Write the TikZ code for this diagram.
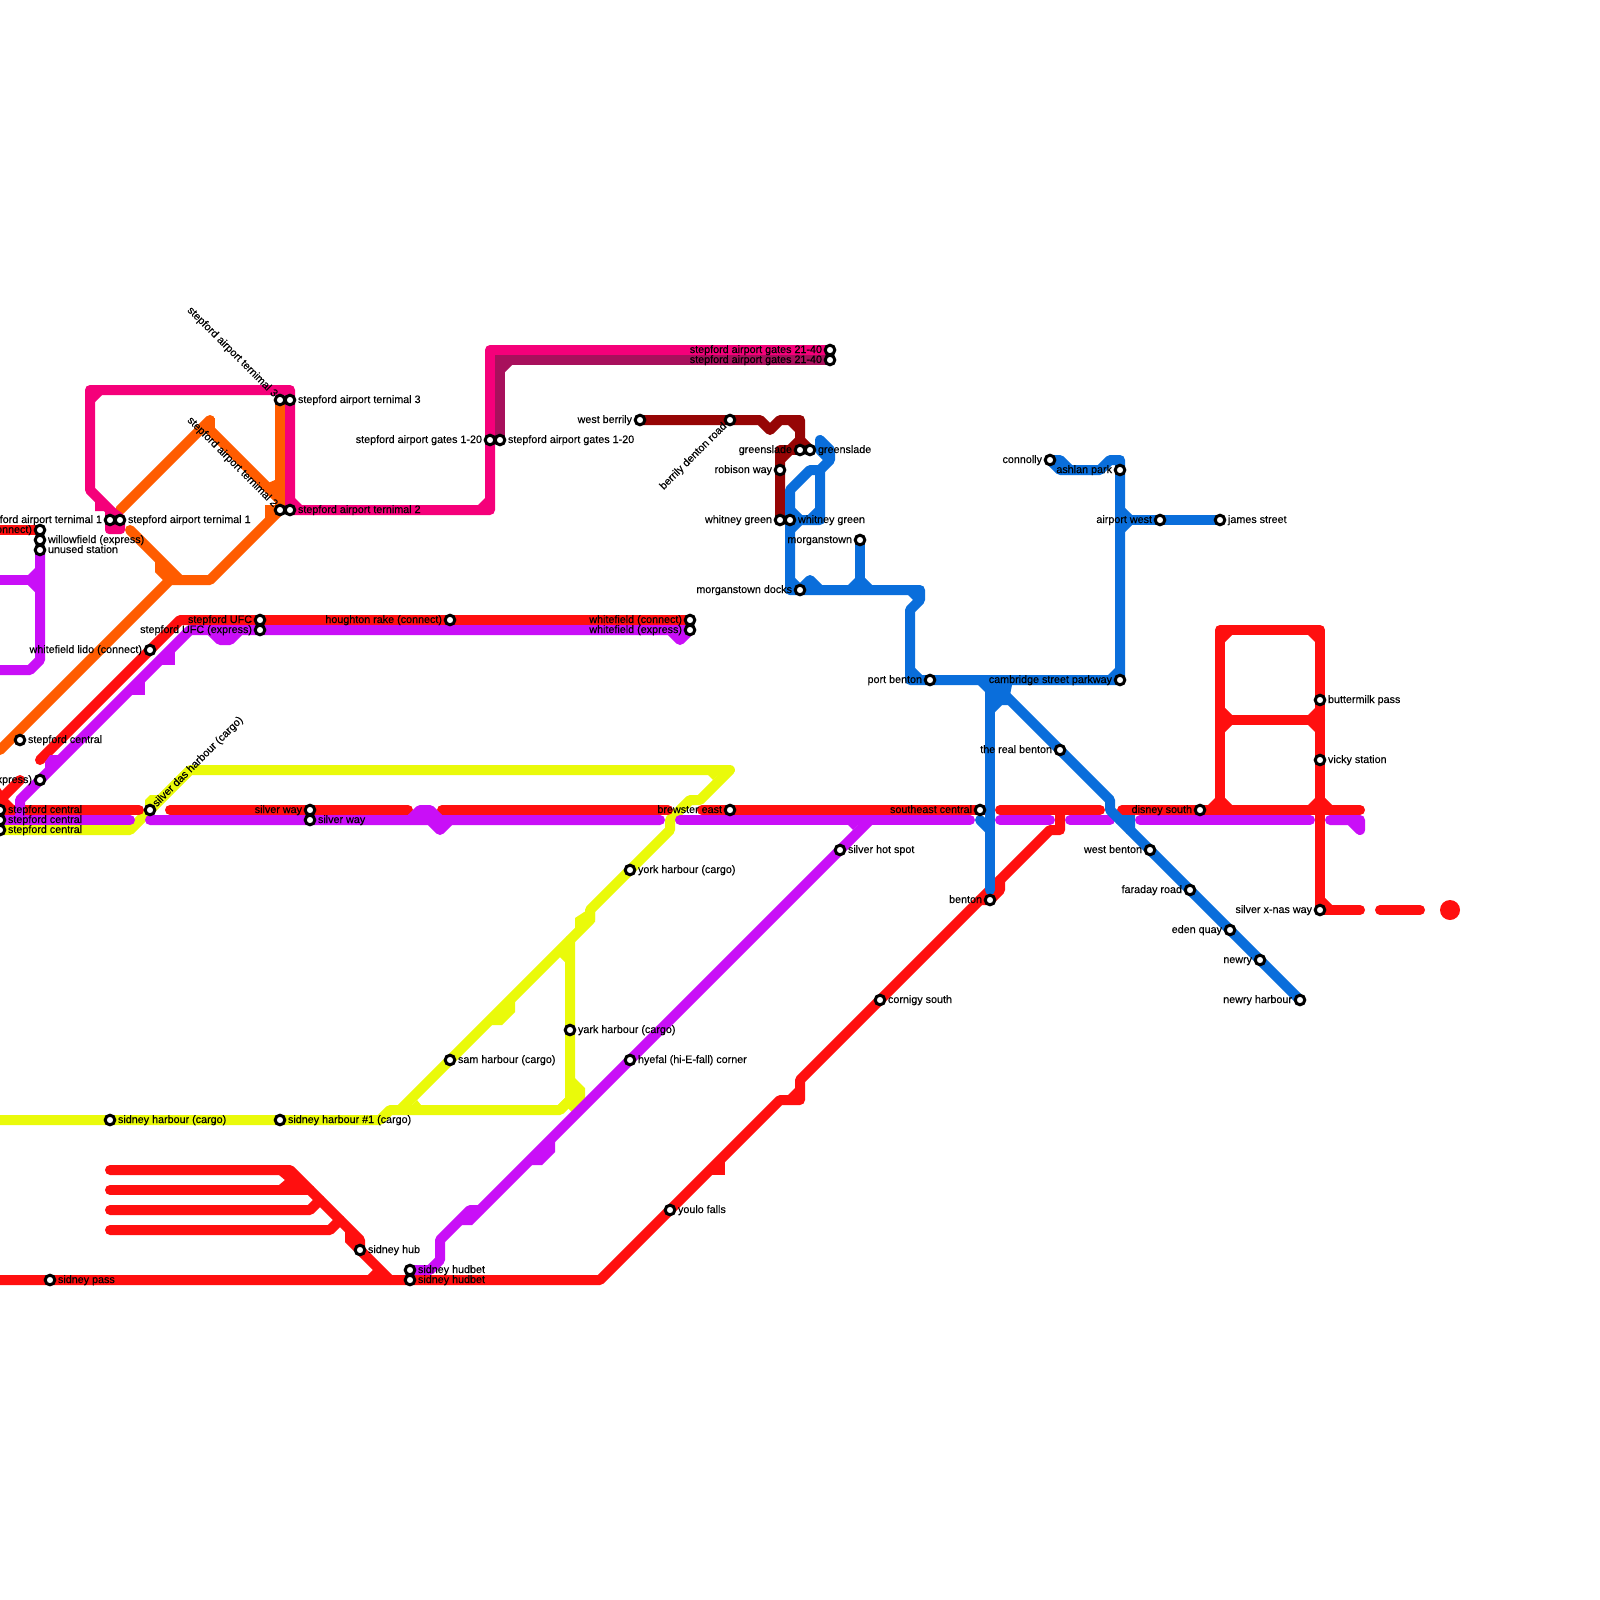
\documentclass[tikz,border=0pt]{standalone}
\usepackage{fontspec}
\setmainfont{Liberation Sans}[FakeBold=0.2]
\definecolor{cred}{HTML}{FF0F0F}
\definecolor{cpurple}{HTML}{C90FF7}
\definecolor{cyellow}{HTML}{EAFA0A}
\definecolor{corange}{HTML}{FF5C00}
\definecolor{cpink}{HTML}{F5007A}
\definecolor{cdpink}{HTML}{A8105C}
\definecolor{cdred}{HTML}{960505}
\definecolor{cblue}{HTML}{0A6EDB}
\tikzset{
  lin/.style={line width=5pt,line cap=round,line join=round,draw=#1},
  bt/.style={line width=5pt,line cap=butt,line join=miter,draw=#1},
  stn/.style={circle,draw=black,fill=white,line width=1.5pt,minimum size=4.8pt,inner sep=0pt,outer sep=0pt},
  lbl/.style={inner sep=0pt,outer sep=0pt,font=\fontsize{5.38}{6.5}\selectfont,text=black}
}
\newcommand\tri[5]{\fill[#1] (#2,#3) -- ++(#4,0) -- ++(-#4,#5) -- cycle;}
\newcommand\stR[4]{\node[stn] (#1) at (#2,#3) {}; \node[lbl,anchor=base west] at ([xshift=4pt,yshift=-1.5pt]#1.center) {#4};}
\newcommand\stL[4]{\node[stn] (#1) at (#2,#3) {}; \node[lbl,anchor=base east] at ([xshift=-4pt,yshift=-1.5pt]#1.center) {#4};}
\begin{document}
\begin{tikzpicture}[x=0.5pt,y=-0.5pt]
\useasboundingbox (0,0) rectangle (1600,1600);
\clip (0,0) rectangle (1600,1600);
% yellow
\draw[lin=cyellow] (0,830) -- (130,830) -- (190,770) -- (730,770) -- (700,800) -- (690,800) -- (670,820) -- (670,830) -- (590,910) -- (590,920) -- (400,1110);
\fill[cyellow] (145,800) -- (150,795) -- (165,795) -- (150,815) -- (145,815) -- cycle;
\fill[cyellow] (575,918) -- (575,932) -- (595,922) -- (595,905) -- cycle;
\draw[bt=cyellow] (510,1000) -- (510,1010) -- (500,1020) -- (490,1020);
\draw[lin=cyellow] (570,940) -- (570,1100) -- (560,1110) -- (390,1110) -- (380,1120) -- (0,1120);
\fill[cyellow] (575,1078) -- (585,1088) -- (585,1098) -- (572,1112) -- (565,1105) -- cycle;
\fill[cyellow] (565,945) -- (565,962) -- (558,955) -- cycle;
\tri{cyellow}{565}{1105}{-7}{-7}
\fill[cyellow] (412,1105) -- (421,1105) -- (417,1100) -- cycle;
\fill[cyellow] (708,775) -- (718,775) -- (713,780) -- cycle;
% red
\draw[lin=cred] (0,530) -- (40,530);
\draw[lin=cred] (40,760) -- (180,620) -- (690,620);
\draw[lin=cred] (20,780) -- (0,800);
\fill[cred] (-5,788) -- (0,788) -- (7,798) -- (14,805) -- (-5,815) -- cycle;
\draw[lin=cred] (0,810) -- (139,810);
\draw[lin=cred] (170,810) -- (408,810);
\draw[lin=cred] (442,810) -- (668,810);
\draw[lin=cred] (702,810) -- (985,810);
\draw[lin=cred] (1000,810) -- (1100,810);
\draw[lin=cred] (1122,810) -- (1360,810);
\draw[lin=cred] (1220,810) -- (1220,630) -- (1320,630) -- (1320,910) -- (1360,910);
\draw[lin=cred] (1220,720) -- (1320,720);
\draw[lin=cred] (1380,910) -- (1420,910);
\fill[cred] (1450,910) circle[radius=10];
\tri{cred}{1225}{635}{7}{7}
\tri{cred}{1315}{635}{-7}{7}
\tri{cred}{1225}{715}{7}{-7}
\tri{cred}{1225}{725}{7}{7}
\tri{cred}{1315}{715}{-7}{-7}
\tri{cred}{1315}{725}{-7}{7}
\tri{cred}{1225}{805}{7}{-7}
\tri{cred}{1315}{805}{-7}{-7}
\tri{cred}{1215}{805}{-7}{-7}
\tri{cred}{1325}{805}{7}{-7}
\tri{cred}{1325}{905}{7}{-7}
\draw[lin=cred] (0,1280) -- (600,1280) -- (780,1100) -- (800,1100) -- (800,1080) -- (1000,880) -- (1050,830) -- (1060,830) -- (1060,810);
\tri{cred}{795}{1095}{-7}{-7}
\draw[bt=cred] (720,1160) -- (720,1170) -- (710,1170);
\draw[lin=cred] (980,900) -- (990,900) -- (1000,890) -- (1000,880);
\draw[lin=cred] (110,1170) -- (290,1170) -- (360,1240) -- (360,1250) -- (390,1280);
\draw[lin=cred] (110,1190) -- (310,1190);
\draw[lin=cred] (110,1210) -- (310,1210) -- (320,1200);
\draw[lin=cred] (110,1230) -- (330,1230) -- (340,1220);
\fill[cred] (279,1175) -- (300,1175) -- (300,1185) -- (279,1185) -- (285,1180) -- cycle;
\draw[bt=cred] (350,1230) -- (350,1240) -- (360,1250);
\draw[bt=cred] (370,1280) -- (380,1270);
% purple
\draw[lin=cpurple] (40,550) -- (40,660) -- (30,670) -- (0,670);
\draw[lin=cpurple] (0,580) -- (40,580);
\tri{cpurple}{35}{575}{-7}{-7}
\tri{cpurple}{35}{585}{-7}{7}
\draw[lin=cpurple] (20,815) -- (20,800) -- (190,630) -- (210,630) -- (220,640) -- (230,640) -- (240,630) -- (670,630) -- (680,640) -- (690,630);
\draw[lin=cpurple] (210,630) -- (690,630);
\fill[cpurple] (45,762) -- (50,755) -- (62,755) -- (50,770) -- (45,770) -- cycle;
\draw[bt=cpurple] (170,650) -- (170,660) -- (160,660);
\draw[bt=cpurple] (140,680) -- (140,690) -- (130,690);
\draw[lin=cpurple] (0,820) -- (130,820);
\draw[lin=cpurple] (150,820) -- (410,820) -- (420,810) -- (430,810) -- (440,820) -- (450,820) -- (660,820);
\draw[lin=cpurple] (410,820) -- (430,820) -- (440,830) -- (450,820);
\fill[cpurple] (425,810) -- (445,822) -- (440,830) -- (425,820) -- cycle;
\draw[lin=cpurple] (680,820) -- (970,820);
\draw[lin=cpurple] (1000,820) -- (1050,820);
\draw[lin=cpurple] (1070,820) -- (1110,820);
\draw[lin=cpurple] (1140,820) -- (1310,820);
\draw[lin=cpurple] (1330,820) -- (1360,820) -- (1360,830) -- (1350,820);
\draw[lin=cpurple] (860,820) -- (870,820) -- (480,1210) -- (470,1210) -- (440,1240) -- (440,1260) -- (430,1270) -- (410,1270);
\fill[cpurple] (848,825) -- (858,825) -- (853,830) -- cycle;
\draw[bt=cpurple] (550,1140) -- (550,1150) -- (540,1160) -- (530,1160);
\draw[bt=cpurple] (480,1210) -- (470,1220) -- (460,1220);
% orange
\draw[lin=corange] (120,510) -- (210,420);
\draw[bt=corange] (210,418) -- (210,430);
\draw[lin=corange] (210,430) -- (280,500);
\draw[lin=corange] (280,400) -- (280,510) -- (210,580) -- (170,580) -- (0,750);
\draw[lin=corange] (130,530) -- (180,580);
\draw[bt=corange] (160,560) -- (160,570) -- (170,580);
\draw[bt=corange] (270,505) -- (270,520);
\fill[corange] (275,480) -- (275,490) -- (268,483) -- cycle;
% pink
\draw[lin=cpink] (120,520) -- (90,490) -- (90,390) -- (290,390) -- (290,510) -- (490,510) -- (490,350) -- (830,350);
\tri{cpink}{95}{395}{7}{7}
\tri{cpink}{485}{505}{-7}{-7}
\tri{cpink}{295}{505}{7}{-7}
\tri{cpink}{495}{355}{7}{7}
\fill[cpink] (95,495) -- (95,511) -- (105,511) -- (105,530) [rounded corners=2pt] -- (105,534) -- (125,534) -- (125,515) [sharp corners] -- (110,505) -- cycle;
% dark pink
\fill[cdpink] (495,355) rectangle (505,365);
\draw[lin=cdpink] (500,440) -- (500,360) -- (830,360);
\tri{cdpink}{505}{365}{7}{7}
% dark red
\draw[lin=cdred] (640,420) -- (760,420) -- (770,430) -- (780,420) -- (800,420) -- (800,440) -- (810,450);
\draw[lin=cdred] (800,440) -- (790,450) -- (780,450) -- (780,520);
\draw[lin=cdred] (790,450) -- (800,450);
\tri{cdred}{785}{455}{7}{7}
\tri{cdred}{795}{425}{-7}{7}
% blue
\draw[lin=cblue] (790,590) -- (790,490) -- (810,470) -- (820,470) -- (830,460) -- (830,450) -- (820,440) -- (820,450) -- (830,460);
\draw[lin=cblue] (820,470) -- (820,520) -- (800,520) -- (790,510);
\draw[lin=cblue] (800,520) -- (790,530);
\draw[bt=cblue] (810,520) -- (820,510);
\draw[lin=cblue] (790,590) -- (920,590) -- (920,600) -- (910,610) -- (910,680) -- (1120,680) -- (1120,460) -- (1110,460) -- (1100,470) -- (1070,470) -- (1060,460) -- (1050,460) -- (1060,470) -- (1070,470);
\draw[lin=cblue] (800,590) -- (810,580) -- (820,590);
\draw[lin=cblue] (860,540) -- (860,590);
\tri{cblue}{855}{585}{-7}{-7}
\tri{cblue}{865}{585}{7}{-7}
\tri{cblue}{795}{585}{7}{-7}
\tri{cblue}{915}{675}{7}{-7}
\tri{cblue}{1115}{675}{-7}{-7}
\tri{cblue}{915}{595}{-7}{7}
\draw[lin=cblue] (1120,520) -- (1220,520);
\tri{cblue}{1125}{515}{7}{-7}
\tri{cblue}{1125}{525}{7}{7}
\draw[lin=cblue] (990,680) -- (990,890);
\fill[cblue] (978,680) -- (978,685) -- (985,692) -- (985,720) -- (995,712) -- (1002,705) -- (1008,705) -- (1012,685) -- (1012,680) -- cycle;
\draw[lin=cblue] (980,820) -- (990,830);
\draw[lin=cblue] (990,680) -- (1110,800) -- (1110,810) -- (1300,1000);
\draw[lin=cblue] (1120,820) -- (1130,820) -- (1130,830);
\fill[cblue] (1115,815) -- (1135,815) -- (1135,830) -- (1125,830) -- cycle;
% stations
\stR{a3r}{290}{400}{stepford airport ternimal 3}
\stR{a2r}{290}{510}{stepford airport ternimal 2}
\stR{g1r}{500}{440}{stepford airport gates 1-20}
\stL{g1l}{490}{440}{stepford airport gates 1-20}
\stL{g2a}{830}{350}{stepford airport gates 21-40}
\stL{g2b}{830}{360}{stepford airport gates 21-40}
\stL{a1l}{110}{520}{stepford airport ternimal 1}
\stR{a1r}{120}{520}{stepford airport ternimal 1}
\stL{wc}{40}{530}{willowfield (connect)}
\stR{we}{40}{540}{willowfield (express)}
\stR{us}{40}{550}{unused station}
\stL{ufc}{260}{620}{stepford UFC}
\stL{ufe}{260}{630}{stepford UFC (express)}
\stL{hr}{450}{620}{houghton rake (connect)}
\stL{wfc}{690}{620}{whitefield (connect)}
\stL{wfe}{690}{630}{whitefield (express)}
\stL{wl}{150}{650}{whitefield lido (connect)}
\stR{sc0}{20}{740}{stepford central}
\stL{sx}{40}{780}{(express)}
\stR{sc1}{0}{810}{stepford central}
\stR{sc2}{0}{820}{stepford central}
\stR{sc3}{0}{830}{stepford central}
\stL{sw1}{310}{810}{silver way}
\stR{sw2}{310}{820}{silver way}
\stL{be}{730}{810}{brewster east}
\stR{yo}{630}{870}{york harbour (cargo)}
\stR{ya}{570}{1030}{yark harbour (cargo)}
\stR{sa}{450}{1060}{sam harbour (cargo)}
\stR{hy}{630}{1060}{hyefal (hi-E-fall) corner}
\stR{hs}{840}{850}{silver hot spot}
\stR{co}{880}{1000}{cornigy south}
\stR{yf}{670}{1210}{youlo falls}
\stR{sh}{110}{1120}{sidney harbour (cargo)}
\stR{sh1}{280}{1120}{sidney harbour \#1 (cargo)}
\stR{shb}{360}{1250}{sidney hub}
\stR{hu1}{410}{1270}{sidney hudbet}
\stR{hu2}{410}{1280}{sidney hudbet}
\stR{sp}{50}{1280}{sidney pass}
\stL{sec}{980}{810}{southeast central}
\stL{bn}{990}{900}{benton}
\stL{rb}{1060}{750}{the real benton}
\stL{csp}{1120}{680}{cambridge street parkway}
\stL{pb}{930}{680}{port benton}
\stL{ap}{1120}{470}{ashlan park}
\stL{cn}{1050}{460}{connolly}
\stL{aw}{1160}{520}{airport west}
\stR{js}{1220}{520}{james street}
\stL{mt}{860}{540}{morganstown}
\stL{md}{800}{590}{morganstown docks}
\stL{wg1}{780}{520}{whitney green}
\stR{wg2}{790}{520}{whitney green}
\stL{rw}{780}{470}{robison way}
\stL{gs1}{800}{450}{greenslade}
\stR{gs2}{810}{450}{greenslade}
\stL{wb}{640}{420}{west berrily}
\stR{bp}{1320}{700}{buttermilk pass}
\stR{vs}{1320}{760}{vicky station}
\stL{ds}{1200}{810}{disney south}
\stL{wbn}{1150}{850}{west benton}
\stL{fr}{1190}{890}{faraday road}
\stL{eq}{1230}{930}{eden quay}
\stL{nw}{1260}{960}{newry}
\stL{nh}{1300}{1000}{newry harbour}
\stL{sxn}{1320}{910}{silver x-nas way}
\node[stn] (a3l) at (280,400) {};
\node[lbl,anchor=east,rotate=-45] at ([xshift=-2.2pt,yshift=2.2pt]a3l.center) {stepford airport ternimal 3};
\node[stn] (a2l) at (280,510) {};
\node[lbl,anchor=east,rotate=-45] at ([xshift=-2.2pt,yshift=2.2pt]a2l.center) {stepford airport ternimal 2};
\node[stn] (bd) at (730,420) {};
\node[lbl,anchor=east,rotate=45] at ([xshift=-2.4pt,yshift=-2.4pt]bd.center) {berrily denton road};
\node[stn] (sd) at (150,810) {};
\node[lbl,anchor=west,rotate=45] at ([xshift=2.4pt,yshift=2.4pt]sd.center) {silver das harbour (cargo)};
\end{tikzpicture}
\end{document}
